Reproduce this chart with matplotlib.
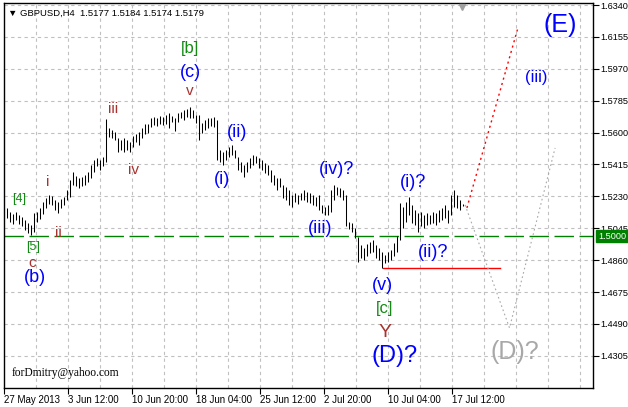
import matplotlib
matplotlib.use("Agg")
import matplotlib.pyplot as plt

plt.rcParams['font.family'] = ['Liberation Sans', 'DejaVu Sans']

# H4 bars, GBPUSD, 27 May - 17 Jul 2013
highs = [1.5163, 1.5140, 1.5128, 1.5140, 1.5122, 1.5111, 1.5093, 1.5076, 1.5064, 1.5134,
         1.5140, 1.5163, 1.5197, 1.5221, 1.5238, 1.5232, 1.5209, 1.5197, 1.5215, 1.5226,
         1.5267, 1.5325, 1.5371, 1.5348, 1.5337, 1.5343, 1.5354, 1.5371, 1.5412, 1.5441,
         1.5453, 1.5441, 1.5458, 1.5679, 1.5627, 1.5615, 1.5603, 1.5569, 1.5557, 1.5569,
         1.5557, 1.5545, 1.5580, 1.5592, 1.5603, 1.5627, 1.5650, 1.5650, 1.5685, 1.5690,
         1.5685, 1.5696, 1.5690, 1.5702, 1.5714, 1.5696, 1.5685, 1.5714, 1.5719, 1.5731,
         1.5737, 1.5748, 1.5731, 1.5702, 1.5702, 1.5656, 1.5673, 1.5685, 1.5685, 1.5690,
         1.5673, 1.5499, 1.5487, 1.5499, 1.5516, 1.5528, 1.5499, 1.5458, 1.5429, 1.5412,
         1.5429, 1.5453, 1.5470, 1.5464, 1.5453, 1.5441, 1.5424, 1.5412, 1.5383, 1.5354,
         1.5337, 1.5337, 1.5296, 1.5284, 1.5267, 1.5238, 1.5250, 1.5238, 1.5250, 1.5267,
         1.5256, 1.5250, 1.5238, 1.5226, 1.5238, 1.5180, 1.5168, 1.5180, 1.5267, 1.5296,
         1.5284, 1.5279, 1.5267, 1.5238, 1.5081, 1.5076, 1.5047, 1.4995, 1.4948, 1.4931,
         1.4954, 1.4965, 1.4977, 1.4948, 1.4931, 1.4907, 1.4890, 1.4907, 1.4919, 1.4960,
         1.5000, 1.5192, 1.5168, 1.5197, 1.5226, 1.5180, 1.5151, 1.5134, 1.5140, 1.5122,
         1.5134, 1.5122, 1.5140, 1.5134, 1.5151, 1.5163, 1.5180, 1.5151, 1.5238, 1.5267,
         1.5238, 1.5209, 1.5184]
lows = [1.5105, 1.5081, 1.5070, 1.5093, 1.5070, 1.5058, 1.5035, 1.5018, 1.5006, 1.5023,
        1.5081, 1.5099, 1.5128, 1.5163, 1.5186, 1.5180, 1.5151, 1.5134, 1.5163, 1.5180,
        1.5209, 1.5226, 1.5296, 1.5290, 1.5279, 1.5290, 1.5296, 1.5313, 1.5337, 1.5371,
        1.5406, 1.5383, 1.5406, 1.5429, 1.5574, 1.5569, 1.5557, 1.5487, 1.5499, 1.5487,
        1.5499, 1.5487, 1.5516, 1.5545, 1.5528, 1.5569, 1.5592, 1.5598, 1.5632, 1.5644,
        1.5638, 1.5650, 1.5644, 1.5650, 1.5627, 1.5661, 1.5609, 1.5661, 1.5685, 1.5673,
        1.5690, 1.5685, 1.5685, 1.5656, 1.5557, 1.5598, 1.5615, 1.5627, 1.5638, 1.5632,
        1.5441, 1.5429, 1.5412, 1.5441, 1.5458, 1.5470, 1.5453, 1.5383, 1.5371, 1.5343,
        1.5371, 1.5395, 1.5412, 1.5424, 1.5395, 1.5383, 1.5366, 1.5354, 1.5313, 1.5296,
        1.5267, 1.5284, 1.5221, 1.5209, 1.5180, 1.5168, 1.5197, 1.5186, 1.5209, 1.5209,
        1.5197, 1.5192, 1.5180, 1.5174, 1.5151, 1.5134, 1.5122, 1.5122, 1.5140, 1.5209,
        1.5238, 1.5226, 1.5209, 1.5058, 1.5041, 1.5023, 1.4989, 1.4849, 1.4873, 1.4861,
        1.4884, 1.4902, 1.4907, 1.4873, 1.4861, 1.4813, 1.4844, 1.4849, 1.4861, 1.4884,
        1.4907, 1.4977, 1.5047, 1.5081, 1.5122, 1.5076, 1.5064, 1.5023, 1.5058, 1.5047,
        1.5064, 1.5070, 1.5076, 1.5064, 1.5081, 1.5093, 1.5105, 1.5076, 1.5122, 1.5168,
        1.5163, 1.5151, 1.5174]

price_ticks = [1.6340, 1.6155, 1.5970, 1.5785, 1.5600, 1.5415, 1.5230, 1.5045,
               1.4860, 1.4675, 1.4490, 1.4305]
date_labels = ["27 May 2013", "3 Jun 12:00", "10 Jun 20:00", "18 Jun 04:00",
               "25 Jun 12:00", "2 Jul 20:00", "10 Jul 04:00", "17 Jul 12:00"]
level = 1.5000
low_level = 1.4815

# forecast paths (bar index, price)
red_path_x = [153.3, 170.3]
red_path_y = [1.5163, 1.6207]
grey_path_x = [152.7, 167.5, 182.7]
grey_path_y = [1.5180, 1.4467, 1.5511]

# wave labels: text, bar, price, colour, size
BLUE = '#0000ff'
BROWN = '#a8322e'
GREEN = '#138a13'
GREY = '#a8a8a8'
labels = [
    ("[b]", 61, 1.6085, GREEN, 12), ("(c)", 61.3, 1.5951, BLUE, 13), ("v", 61, 1.5842, BROWN, 11),
    ("iii", 35.3, 1.5737, BROWN, 11), ("iv", 42, 1.5383, BROWN, 11),
    ("i", 13.7, 1.5313, BROWN, 11), ("ii", 17, 1.5018, BROWN, 11),
    ("[4]", 4, 1.5215, GREEN, 9), ("[5]", 8.7, 1.4937, GREEN, 9),
    ("c", 8.3, 1.4844, BROWN, 11), ("(b)", 9.3, 1.4757, BLUE, 13),
    ("(i)", 71.7, 1.5325, BLUE, 13), ("(ii)", 76.7, 1.5603, BLUE, 13),
    ("(iii)", 104.3, 1.5041, BLUE, 13), ("(iv)?", 110, 1.5383, BLUE, 13),
    ("(i)?", 135.3, 1.5308, BLUE, 13), ("(ii)?", 142, 1.4902, BLUE, 13),
    ("(v)", 125.3, 1.4716, BLUE, 13), ("[c]", 126, 1.4577, GREEN, 12),
    ("Y", 126, 1.4443, BROWN, 14), ("(D)?", 129.3, 1.4304, BLUE, 17),
    ("(D)?", 169.3, 1.4327, GREY, 18), ("(E)", 184.3, 1.6224, BLUE, 18),
    ("(iii)", 176.3, 1.5922, BLUE, 12),
]

fig = plt.figure(figsize=(6.28, 4.07), dpi=100)
ax = fig.add_axes([4/628, 19/407, 589/628, 385/407])
ax.set_xlim(-1, 195.33)
ax.set_ylim(1.41186, 1.63516)

# grid
for yv in price_ticks:
    ax.axhline(yv, color='#c0c0c0', lw=0.8, ls=(0, (3, 3)), zorder=0)
grid_x = [(36 + 32*k - 7) / 3 for k in range(18)]
for xv in grid_x:
    ax.axvline(xv, color='#c0c0c0', lw=0.8, ls=(0, (3, 3)), zorder=0)

# bars
xs = list(range(len(highs)))
ax.vlines(xs, lows, highs, color='black', lw=0.75, zorder=3)

# levels and forecasts
ax.axhline(level, color='#008000', lw=1.0, ls=(0, (14, 4)), zorder=2)
ax.plot([125.3, 164.3], [low_level, low_level], color='red', lw=1.0, zorder=2)
ax.plot(red_path_x, red_path_y, color='red', lw=1.0, ls=(0, (1.5, 2.5)), zorder=2)
ax.plot(grey_path_x, grey_path_y, color=GREY, lw=0.8, ls=(0, (1.5, 2.5)), zorder=2)

for txt, bx, py, col, sz in labels:
    ax.text(bx, py, txt, color=col, fontsize=sz, ha='center', va='center', zorder=4)

# chart shift marker at the top
ax.plot([151.7], [0.99], marker='v', color='#a0a0a0', markersize=5,
        transform=ax.get_xaxis_transform(), clip_on=False, zorder=5)

# axes styling (price scale on the right)
ax.yaxis.tick_right()
ax.set_yticks(price_ticks)
ax.set_yticklabels(["%.4f" % v for v in price_ticks], fontsize=6.6)
ax.tick_params(axis='y', length=4, width=0.8, pad=1)
date_pos = [-1] + [grid_x[k] for k in (1, 3, 5, 7, 9, 11, 13)]
ax.set_xticks(date_pos)
ax.set_xticklabels(date_labels, fontsize=7, ha='left')
ax.tick_params(axis='x', length=4, width=0.8, pad=1)
for sp in ax.spines.values():
    sp.set_linewidth(1.0)

ax.text(1.0 + 5/589, level, "1.5000", transform=ax.get_yaxis_transform(),
        fontsize=6.6, color='white', va='center', ha='left', zorder=5,
        bbox=dict(boxstyle='square,pad=0.2', fc='#008000', ec='#008000'))

ax.text(0.007, 0.985, "\u25bc GBPUSD,H4  1.5177 1.5184 1.5174 1.5179", transform=ax.transAxes,
        fontsize=6.8, va='top', ha='left')
ax.text(0.013, 0.04, "forDmitry@yahoo.com", transform=ax.transAxes,
        fontsize=8.3, family='Liberation Serif', va='center', ha='left')

fig.savefig("out.png", dpi=100)
